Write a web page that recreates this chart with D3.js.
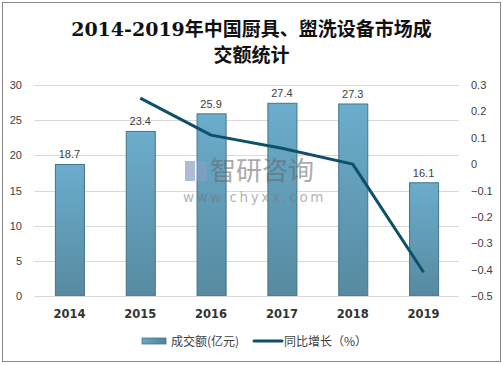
<!DOCTYPE html>
<html><head><meta charset="utf-8">
<script src="https://cdn.jsdelivr.net/npm/d3@7/dist/d3.min.js"></script>
<style>body{margin:0;background:#fff}svg{display:block}</style>
</head><body>
<svg id="c" width="503" height="365"></svg>
<script>
const years = ["2014","2015","2016","2017","2018","2019"];
const amount = [18.7, 23.4, 25.9, 27.4, 27.3, 16.1];
const growthYears = ["2015","2016","2017","2018","2019"];
const growth = [0.25, 0.11, 0.06, 0.00, -0.41];
const leftTicks = [0,5,10,15,20,25,30];
const rightTicks = [-0.5,-0.4,-0.3,-0.2,-0.1,0,0.1,0.2,0.3];
const titleLines = ["2014-2019年中国厨具、盥洗设备市场成","交额统计"];
const legendLabels = ["成交额(亿元)","同比增长（%）"];

const svg = d3.select("#c");
const W=503,H=365;
const m={l:34,r:44,t:85,b:69};
const x=d3.scaleBand().domain(years).range([m.l,W-m.r]).paddingInner(0.59).paddingOuter(0.295);
const y=d3.scaleLinear().domain([0,30]).range([H-m.b,m.t]);
const y2=d3.scaleLinear().domain([-0.5,0.3]).range([H-m.b,m.t]);

svg.append("rect").attr("x",2.5).attr("y",2.5).attr("width",W-5).attr("height",H-6)
  .attr("fill","#fff").attr("stroke","#898989").attr("stroke-width",1);

const defs=svg.append("defs");
const g=defs.append("linearGradient").attr("id","bg").attr("x1",0).attr("y1",0).attr("x2",0).attr("y2",1);
g.append("stop").attr("offset","0%").attr("stop-color","#6badcc");
g.append("stop").attr("offset","100%").attr("stop-color","#578aa0");
const gl=defs.append("linearGradient").attr("id","lg").attr("x1",0).attr("y1",0).attr("x2",1).attr("y2",0);
gl.append("stop").attr("offset","0%").attr("stop-color","#6aa8c6");
gl.append("stop").attr("offset","100%").attr("stop-color","#4f8298");

svg.append("g").selectAll("text").data(titleLines).join("text")
  .attr("x",W/2).attr("y",(d,i)=>36+i*26).attr("text-anchor","middle")
  .attr("font-family","'DejaVu Serif','Noto Sans CJK SC',serif").attr("font-weight","bold")
  .attr("font-size",19).attr("fill","#111").text(d=>d);

svg.append("g").selectAll("line").data(leftTicks).join("line")
  .attr("x1",m.l).attr("x2",W-m.r).attr("y1",d=>Math.round(y(d))+0.5).attr("y2",d=>Math.round(y(d))+0.5)
  .attr("stroke","#d9d9d9").attr("stroke-width",1);

const la=svg.append("g").attr("transform",`translate(${m.l},0)`)
  .call(d3.axisLeft(y).tickValues(leftTicks).tickSize(0).tickPadding(12));
la.select(".domain").remove();
la.selectAll("text").attr("font-family","'Liberation Sans',Arial,sans-serif").attr("font-size",11).attr("fill","#404040");

const ra=svg.append("g").attr("transform",`translate(${W-m.r},0)`)
  .call(d3.axisRight(y2).tickValues(rightTicks).tickSize(0).tickPadding(12).tickFormat(d=>d===0?"0":d3.format("")(+d.toFixed(1))));
ra.select(".domain").remove();
ra.selectAll("text").attr("font-family","'Liberation Sans',Arial,sans-serif").attr("font-size",11).attr("fill","#404040");

svg.append("g").selectAll("rect").data(amount).join("rect")
  .attr("x",(d,i)=>x(years[i])+0.5).attr("y",d=>y(d)).attr("width",x.bandwidth()).attr("height",d=>y(0)-y(d))
  .attr("fill","url(#bg)").attr("stroke","#44748a").attr("stroke-width",1);

svg.append("g").selectAll("text").data(amount).join("text")
  .attr("x",(d,i)=>x(years[i])+x.bandwidth()/2).attr("y",d=>y(d)-6).attr("text-anchor","middle")
  .attr("font-family","'Liberation Sans',Arial,sans-serif").attr("font-size",11).attr("fill","#404040")
  .text(d=>d.toFixed(1));

// watermark
const wm=svg.append("g").attr("opacity",0.55);
wm.append("rect").attr("x",185).attr("y",161).attr("width",10).attr("height",20).attr("fill","#6f86b8");
wm.append("rect").attr("x",197).attr("y",161).attr("width",10).attr("height",20).attr("fill","#8fa0c8");
wm.append("text").attr("x",210).attr("y",180).attr("font-family","'Noto Sans CJK SC',sans-serif")
  .attr("font-size",26).attr("fill","#666").text("智研咨询");
wm.append("text").attr("x",183).attr("y",202).attr("font-family","'DejaVu Sans',sans-serif")
  .attr("font-size",13.5).attr("letter-spacing",2.6).attr("fill","#777").text("www.chyxx.com");

const line=d3.line().x((d,i)=>x(growthYears[i])+x.bandwidth()/2).y(d=>y2(d));
svg.append("path").datum(growth).attr("d",line).attr("fill","none")
  .attr("stroke","#0d5068").attr("stroke-width",3).attr("stroke-linejoin","round");

svg.append("line").attr("x1",m.l).attr("x2",W-m.r).attr("y1",y(0)+0.5).attr("y2",y(0)+0.5).attr("stroke","#d9d9d9");
svg.append("g").selectAll("text").data(years).join("text")
  .attr("x",d=>x(d)+x.bandwidth()/2).attr("y",318).attr("text-anchor","middle")
  .attr("font-family","'DejaVu Sans',sans-serif").attr("font-weight","bold").attr("font-size",11.5).attr("fill","#333")
  .text(d=>d);

const lg=svg.append("g");
lg.append("rect").attr("x",142).attr("y",338).attr("width",24).attr("height",6).attr("fill","url(#lg)").attr("stroke","#44748a").attr("stroke-width",0.8);
lg.append("text").attr("x",171).attr("y",346).attr("font-family","'Noto Sans CJK SC',sans-serif").attr("font-size",12).attr("fill","#404040").text(legendLabels[0]);
lg.append("line").attr("x1",254).attr("x2",282).attr("y1",341).attr("y2",341).attr("stroke","#0d5068").attr("stroke-width",3).attr("stroke-linecap","round");
lg.append("text").attr("x",284).attr("y",346).attr("font-family","'Noto Sans CJK SC',sans-serif").attr("font-size",12).attr("fill","#404040").text(legendLabels[1]);
</script>
</body></html>
